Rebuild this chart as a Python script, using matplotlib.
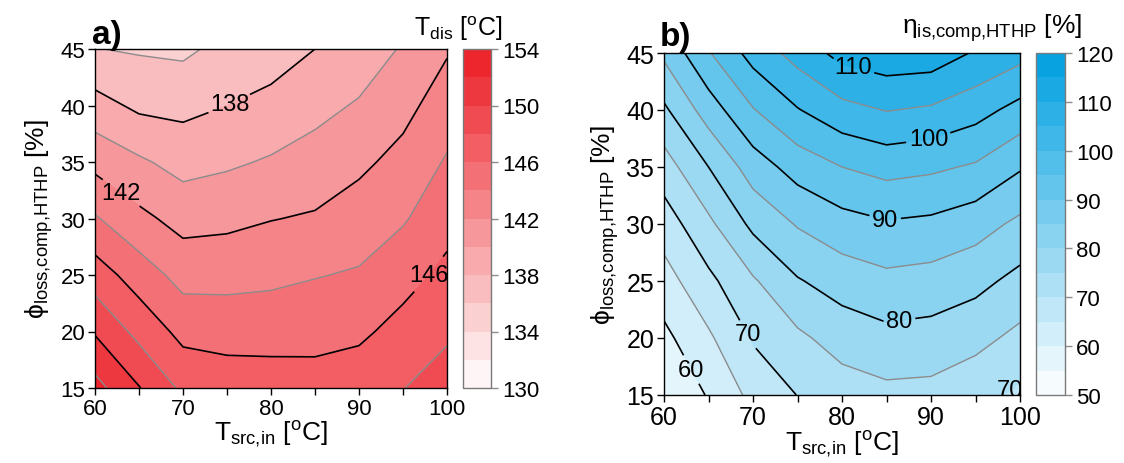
import numpy as np
import matplotlib
matplotlib.use('Agg')
import matplotlib.pyplot as plt
from matplotlib.colors import LinearSegmentedColormap

plt.rcParams['font.family'] = ['Liberation Sans', 'DejaVu Sans']
plt.rcParams['mathtext.fontset'] = 'custom'
plt.rcParams['mathtext.rm'] = 'Liberation Sans'
plt.rcParams['mathtext.it'] = 'Liberation Sans:italic'
plt.rcParams['mathtext.bf'] = 'Liberation Sans:bold'

# grid: source inlet temperature (columns) x compressor heat loss (rows)
t_src = [60, 65, 70, 75, 80, 85, 90, 95, 100]
phi_loss = [15, 20, 25, 30, 35, 40, 45]

# a) discharge temperature [degC]
t_dis = [
    [152.7, 150.1, 147.6, 147.1, 147.0, 146.8, 147.2, 147.95, 148.9],
    [149.8, 147.4, 145.4, 145.2, 145.2, 145.35, 145.6, 146.7, 147.7],
    [147.0, 145.05, 143.3, 143.35, 143.55, 143.9, 144.2, 145.26, 146.5],
    [144.2, 142.5, 141.3, 141.5, 141.93, 142.2, 142.9, 143.8, 145.3],
    [141.4, 140.3, 139.3, 139.7, 140.2, 140.8, 141.6, 142.6, 144.2],
    [138.75, 137.6, 137.45, 138.0, 138.6, 139.4, 140.2, 141.4, 143.0],
    [136.05, 135.8, 135.6, 136.6, 137.0, 138.0, 138.8, 140.2, 141.8],
]

# b) isentropic efficiency [%]
eta_is = [
    [55.3, 60.4, 66.4, 70.1, 72.5, 73.7, 73.5, 71.6, 69.0],
    [58.75, 64.2, 70.5, 74.0, 77.1, 78.6, 78.1, 76.5, 73.7],
    [62.9, 68.8, 74.4, 79.6, 82.2, 83.7, 83.1, 81.5, 78.5],
    [67.4, 73.9, 81.2, 85.4, 88.1, 89.5, 88.9, 87.1, 83.9],
    [72.7, 80.0, 87.4, 92.1, 95.0, 96.7, 95.9, 94.4, 90.5],
    [79.1, 87.4, 94.7, 99.7, 103.4, 105.2, 104.3, 101.9, 98.3],
    [86.0, 94.6, 101.9, 106.9, 111.7, 113.2, 112.9, 109.5, 106.7],
]

levels_a = np.arange(130, 155, 2)
black_a = [134, 138, 142, 146, 150]
grey_a = [132, 136, 140, 144, 148, 152]
cticks_a = [130, 134, 138, 142, 146, 150, 154]
labels_a = [(75.3, 40.1), (63.0, 32.3), (97.7, 25.2)]

levels_b = np.arange(50, 121, 5)
black_b = [60, 70, 80, 90, 100, 110]
grey_b = [55, 65, 75, 85, 95, 105, 115]
cticks_b = [50, 60, 70, 80, 90, 100, 110, 120]
labels_b = [(81.1, 43.3), (89.7, 37.6), (84.8, 30.3), (86.5, 21.2),
            (68.9, 20.1), (62.5, 17.0), (98.1, 16.3)]

reds = LinearSegmentedColormap.from_list('reds', ['#ffffff', '#ec1c24'])
blues = LinearSegmentedColormap.from_list('blues', ['#ffffff', '#009fe0'])

W, H = 1124, 464
fig = plt.figure(figsize=(W / 100, H / 100), dpi=100)


def box(l, t, r, b):
    return [l / W, 1 - b / H, (r - l) / W, (b - t) / H]


def panel(ax, cax, z, levels, cmap, grey, black, cticks, label_pos, tsize):
    X, Y = np.meshgrid(t_src, phi_loss)
    z = np.array(z)
    cf = ax.contourf(X, Y, z, levels=levels, cmap=cmap)
    ax.contour(X, Y, z, levels=grey, colors='#8c8c8c', linewidths=1.0)
    cl = ax.contour(X, Y, z, levels=black, colors='black', linewidths=1.2)
    txts = ax.clabel(cl, fmt='%d', fontsize=17, inline=True, inline_spacing=3,
                     manual=label_pos)
    for t in txts:
        t.set_rotation(0)
    ax.set_xlim(60, 100)
    ax.set_ylim(15, 45)
    ax.set_xticks([60, 70, 80, 90, 100])
    ax.set_xticks([65, 75, 85, 95], minor=True)
    ax.set_yticks([15, 20, 25, 30, 35, 40, 45])
    ax.tick_params(which='both', direction='out', length=5, width=1,
                   labelsize=tsize, pad=2)
    for s in ax.spines.values():
        s.set_linewidth(1.0)
    ax.set_xlabel(r'T$_{\mathrm{src{,}in}}$ [$^{\mathrm{o}}$C]', fontsize=19,
                  labelpad=0)
    ax.set_ylabel('ϕ$_{\\mathrm{loss{,}comp{,}HTHP}}$ [%]', fontsize=19,
                  labelpad=4)
    cb = fig.colorbar(cf, cax=cax, ticks=cticks)
    cb.outline.set_edgecolor('#7a7a7a')
    cb.outline.set_linewidth(1.0)
    cax.tick_params(color='#8c8c8c', length=5, width=1, labelsize=16, pad=3)
    return cf


ax_a = fig.add_axes(box(95, 50, 447, 389))
cax_a = fig.add_axes(box(463, 50, 491, 389))
ax_b = fig.add_axes(box(664, 54, 1020, 396))
cax_b = fig.add_axes(box(1036, 54, 1065, 396))

panel(ax_a, cax_a, t_dis, levels_a, reds, grey_a, black_a, cticks_a, labels_a, 16)
panel(ax_b, cax_b, eta_is, levels_b, blues, grey_b, black_b, cticks_b, labels_b, 18)

fig.text(92 / W, 1 - 44 / H, 'a)', fontsize=24, fontweight='bold')
fig.text(660 / W, 1 - 46 / H, 'b)', fontsize=24, fontweight='bold')
fig.text(502 / W, 1 - 36 / H, r'T$_{\mathrm{dis}}$ [$^{\mathrm{o}}$C]',
         fontsize=18, ha='right')
fig.text(1082 / W, 1 - 34 / H, 'η$_{\\mathrm{is{,}comp{,}HTHP}}$ [%]',
         fontsize=19, ha='right')

fig.savefig('out.png', dpi=100)
